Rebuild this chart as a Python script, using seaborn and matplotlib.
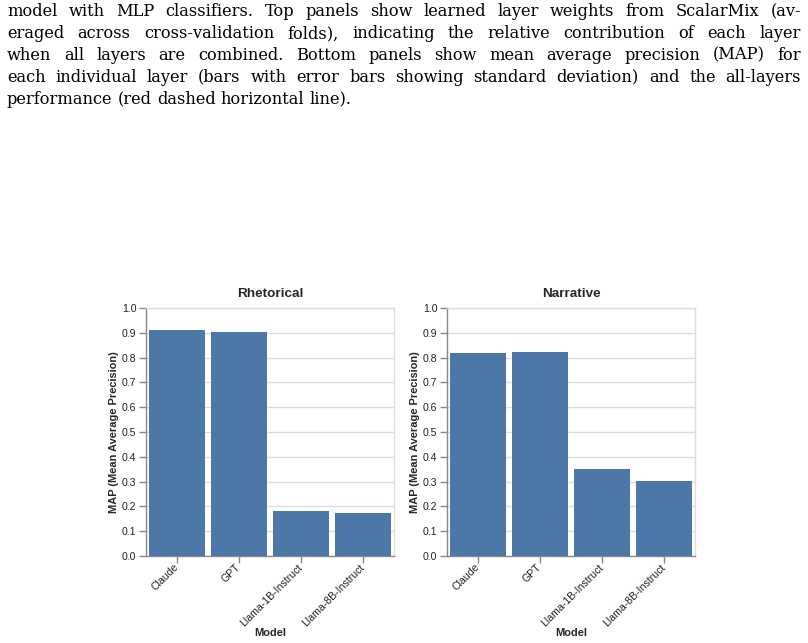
import matplotlib
matplotlib.use("Agg")
import matplotlib.pyplot as plt
import pandas as pd
import seaborn as sns

# chart values
models = ["Claude", "GPT", "Llama-1B-Instruct", "Llama-8B-Instruct"]
rhetorical_map = [0.911, 0.903, 0.181, 0.173]
narrative_map = [0.820, 0.824, 0.352, 0.302]
panel_titles = ["Rhetorical", "Narrative"]
y_ticks = [0.0, 0.1, 0.2, 0.3, 0.4, 0.5, 0.6, 0.7, 0.8, 0.9, 1.0]

caption_lines = [
    "model with MLP classifiers. Top panels show learned layer weights from ScalarMix (av-",
    "eraged across cross-validation folds), indicating the relative contribution of each layer",
    "when all layers are combined.  Bottom panels show mean average precision (MAP) for",
    "each individual layer (bars with error bars showing standard deviation) and the all-layers",
    "performance (red dashed horizontal line).",
]

W, H = 808, 643
BAR = "#4c78a8"
GRID = "#dddddd"
DOMAIN = "#888888"

sns.set_style("white")
plt.rcParams["font.family"] = ["Liberation Sans", "DejaVu Sans"]

fig = plt.figure(figsize=(W / 100, H / 100), dpi=100)

# --- caption text (justified, paper style) ---
cap_font = dict(family=["DejaVu Serif"], size=11.7, color="black")
x_left, x_right = 7, 801
baseline0, line_step = 16, 21.9
fig.canvas.draw()
renderer = fig.canvas.get_renderer()


def text_width(s):
    t = fig.text(0, 0, s, **cap_font)
    w = t.get_window_extent(renderer).width
    t.remove()
    return w


space_w = text_width("a b") - text_width("ab")
for i, line in enumerate(caption_lines):
    yb = 1 - (baseline0 + i * line_step) / H
    words = line.split()
    texts = [fig.text(0, yb, w, ha="left", va="baseline", **cap_font) for w in words]
    widths = [t.get_window_extent(renderer).width for t in texts]
    if i == len(caption_lines) - 1:
        sp = space_w
    else:
        sp = (x_right - x_left - sum(widths)) / (len(words) - 1)
    x = x_left
    for t, w in zip(texts, widths):
        t.set_x(x / W)
        x += w + sp

# --- bar panels ---
panel_left = [146, 447]
ax_w, ax_top, ax_bottom = 248, 308, 556
for left, title, vals in zip(panel_left, panel_titles, [rhetorical_map, narrative_map]):
    ax = fig.add_axes([left / W, (H - ax_bottom) / H, ax_w / W, (ax_bottom - ax_top) / H])
    df = pd.DataFrame({"Model": models, "MAP": vals})
    sns.barplot(data=df, x="Model", y="MAP", color=BAR, saturation=1, width=0.9,
                edgecolor="none", ax=ax, zorder=3)
    ax.set_xlim(-0.5, len(models) - 0.5)
    ax.set_ylim(0, 1.0)
    ax.set_yticks(y_ticks)
    ax.set_yticklabels([f"{t:.1f}" for t in y_ticks])
    ax.yaxis.grid(True, color=GRID, linewidth=1, zorder=0)
    ax.set_axisbelow(True)
    for s in ["top", "right"]:
        ax.spines[s].set_color(GRID)
        ax.spines[s].set_linewidth(1)
    for s in ["left", "bottom"]:
        ax.spines[s].set_color(DOMAIN)
        ax.spines[s].set_linewidth(1)
    ax.tick_params(axis="both", length=5, width=1, color=DOMAIN, labelsize=7.6,
                   labelcolor="#222222", pad=2)
    ax.tick_params(axis="y", left=True)
    ax.tick_params(axis="x", bottom=True)
    plt.setp(ax.get_xticklabels(), rotation=45, ha="right", va="center",
             rotation_mode="anchor")
    ax.set_xlabel("Model", fontsize=7.9, fontweight="bold", labelpad=0)
    ax.set_ylabel("MAP (Mean Average Precision)", fontsize=7.9, fontweight="bold",
                  labelpad=2)
    ax.set_title(title, fontsize=9.7, fontweight="bold", pad=8)

fig.savefig("out.png", dpi=100)
